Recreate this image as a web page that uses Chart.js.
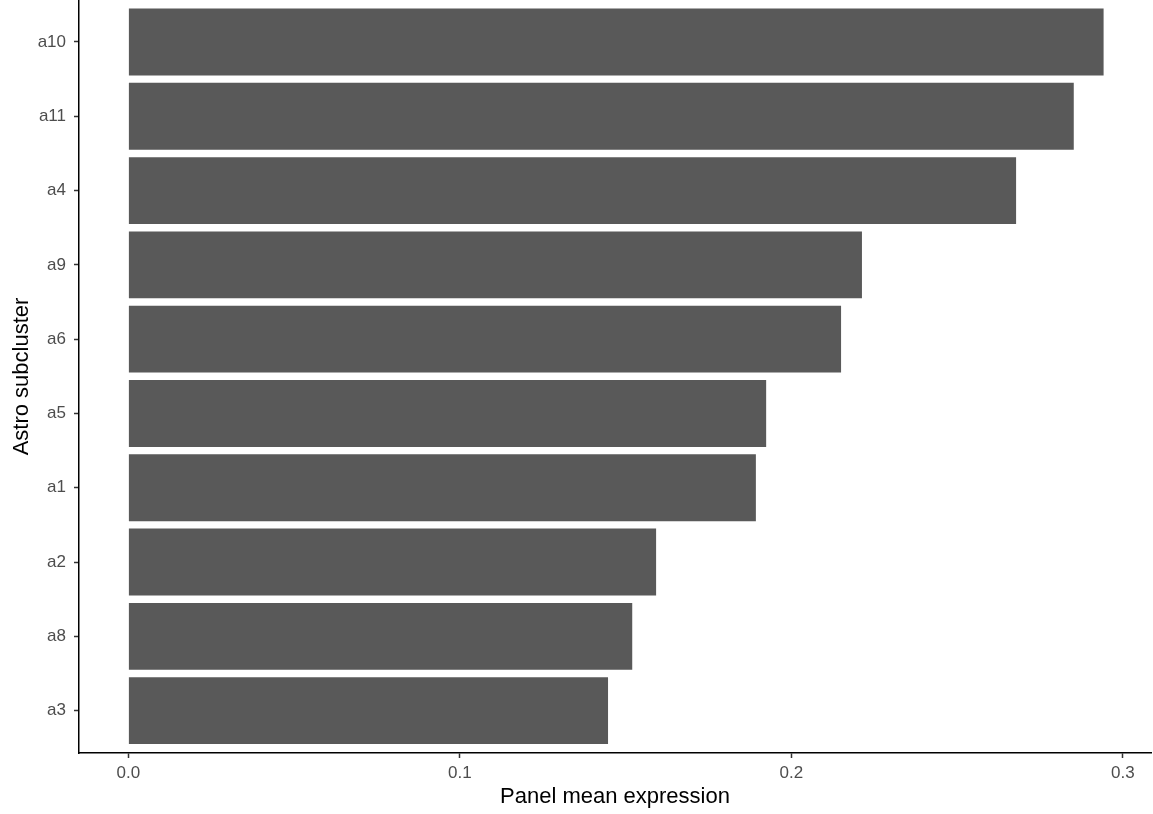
<!DOCTYPE html>
<html>
<head>
<meta charset="utf-8">
<script src="https://cdn.jsdelivr.net/npm/chart.js@4.4.1/dist/chart.umd.min.js"></script>
<style>
  html, body { margin: 0; padding: 0; background: #fff; overflow: hidden; }
  /* the y tick labels make Chart.js reserve space above the plot; pull it up so the panel starts at the top edge */
  #wrap { width: 1153px; height: 832px; margin-top: -18px; position: relative; }
</style>
</head>
<body>
<div id="wrap"><canvas id="chart"></canvas></div>
<script>
// subclusters, ordered top to bottom
const subclusters = ["a10", "a11", "a4", "a9", "a6", "a5", "a1", "a2", "a8", "a3"];
const meanExpression = [0.2942, 0.2852, 0.2678, 0.2213, 0.2150, 0.1924, 0.1893, 0.1592, 0.1520, 0.1447];
const xTicks = [0, 0.1, 0.2, 0.3];

const fontFamily = "'Liberation Sans', Arial, sans-serif";
const tickFont = { family: fontFamily, size: 17, lineHeight: "20px" };
const titleFont = { family: fontFamily, size: 22 };

const ctx = document.getElementById("chart");

new Chart(ctx, {
  type: "bar",
  data: {
    datasets: [
      {
        data: subclusters.map((s, i) => ({ x: meanExpression[i], y: i })),
        backgroundColor: "#595959",
        borderWidth: 0,
        barPercentage: 0.9,
        categoryPercentage: 1.0,
      },
    ],
  },
  options: {
    indexAxis: "y",
    responsive: true,
    maintainAspectRatio: false,
    animation: false,
    layout: { padding: { top: 0, right: 2, bottom: 0, left: 0 } },
    scales: {
      x: {
        type: "linear",
        offset: false,
        min: -0.0149,
        max: 0.3085,
        afterBuildTicks: (axis) => {
          axis.ticks = xTicks.map((v) => ({ value: v }));
        },
        afterFit: (axis) => {
          axis.height = 61;
        },
        ticks: {
          color: "#4D4D4D",
          font: tickFont,
          padding: 5,
          callback: (v) => v.toFixed(1),
        },
        grid: {
          offset: false,
          drawOnChartArea: false,
          tickLength: 5,
          tickWidth: 1.5,
          tickColor: "#333",
        },
        border: { color: "#000", width: 1.5 },
        title: {
          display: true,
          text: "Panel mean expression",
          color: "#000",
          font: titleFont,
          padding: { top: 2, bottom: 4 },
        },
      },
      y: {
        type: "linear",
        offset: false,
        reverse: true,
        min: -0.565,
        max: 9.57,
        afterBuildTicks: (axis) => {
          axis.ticks = subclusters.map((s, i) => ({ value: i }));
        },
        afterFit: (axis) => {
          axis.width = 79;
        },
        ticks: {
          color: "#4D4D4D",
          font: tickFont,
          padding: 8,
          callback: (v) => subclusters[v],
        },
        grid: {
          offset: false,
          drawOnChartArea: false,
          tickLength: 5,
          tickWidth: 1.5,
          tickColor: "#333",
        },
        border: { color: "#000", width: 1.5 },
        title: {
          display: true,
          text: "Astro subcluster",
          color: "#000",
          font: titleFont,
          padding: { top: 9, bottom: 0 },
        },
      },
    },
    plugins: {
      legend: { display: false },
      tooltip: { enabled: false },
    },
  },
});
</script>
</body>
</html>
